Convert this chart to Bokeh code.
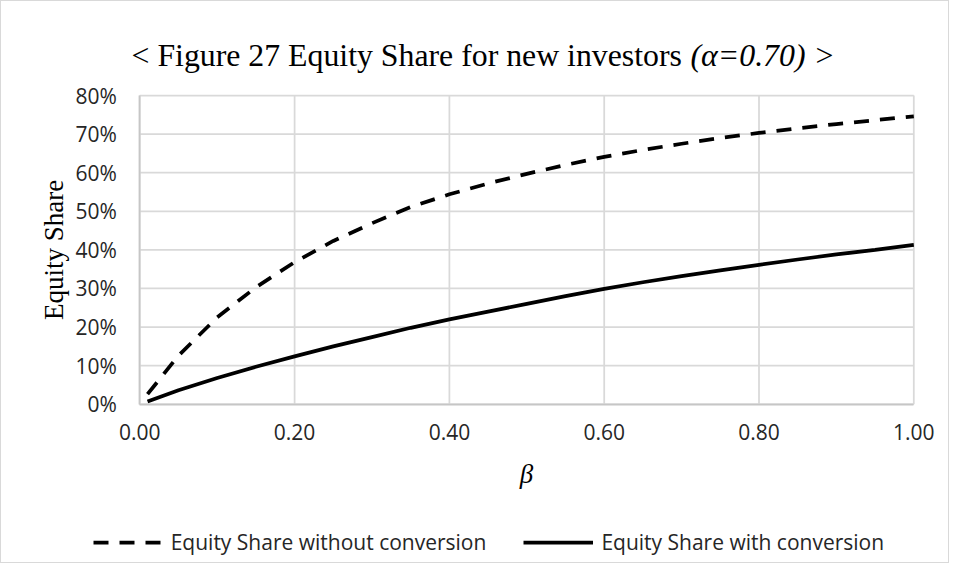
from bokeh.plotting import figure
from bokeh.models import Label, Legend, LegendItem, NumeralTickFormatter, FixedTicker, Range1d
from bokeh.embed import file_html
from bokeh.resources import INLINE

# ---- data ----
beta = [0.01, 0.05, 0.10, 0.15, 0.20, 0.25, 0.30, 0.35, 0.40, 0.45, 0.50,
        0.55, 0.60, 0.65, 0.70, 0.75, 0.80, 0.85, 0.90, 0.95, 1.00]
share_without = [0.026, 0.126, 0.225, 0.303, 0.368, 0.423, 0.469, 0.511, 0.544, 0.572, 0.597,
                 0.620, 0.641, 0.659, 0.675, 0.690, 0.703, 0.715, 0.726, 0.736, 0.746]
share_with = [0.007, 0.036, 0.068, 0.097, 0.124, 0.150, 0.174, 0.198, 0.220, 0.240, 0.260,
              0.280, 0.299, 0.316, 0.332, 0.347, 0.361, 0.375, 0.388, 0.400, 0.413]
x_ticks = [0.0, 0.2, 0.4, 0.6, 0.8, 1.0]
y_ticks = [0.0, 0.1, 0.2, 0.3, 0.4, 0.5, 0.6, 0.7, 0.8]
title_main = "< Figure 27 Equity Share for new investors"
title_italic = "(α=0.70)"
title_end = ">"
series_names = ["Equity Share without conversion", "Equity Share with conversion"]

TICK_FONT = "Open Sans"
SERIF = "Liberation Serif"
TEXT_COLOR = "#262626"
GRID = "#d9d9d9"

# canvas geometry (pixels): the plotting area sits inside a full-canvas frame
W, H = 949, 563
PX_LEFT, PX_RIGHT, PX_TOP, PX_BOTTOM = 138.3, 912.3, 94.0, 402.7
x0, x1 = x_ticks[0], x_ticks[-1]
y0, y1 = y_ticks[0], y_ticks[-1]
sx = (PX_RIGHT - PX_LEFT) / (x1 - x0)
sy = (PX_BOTTOM - PX_TOP) / (y1 - y0)
x_range = Range1d(x0 - PX_LEFT / sx, x0 + (W - PX_LEFT) / sx)
y_range = Range1d(y0 - (H - PX_BOTTOM) / sy, y0 + PX_BOTTOM / sy)

p = figure(width=W, height=H, output_backend="svg", toolbar_location=None,
           x_range=x_range, y_range=y_range, min_border=0)
p.styles = {"border": "1px solid #d9d9d9"}
p.outline_line_color = None
p.background_fill_color = "white"
p.border_fill_color = "white"
p.grid.visible = False

# grid lines limited to the data area
p.segment(x0=x_ticks, y0=[y0] * len(x_ticks), x1=x_ticks, y1=[y1] * len(x_ticks),
          line_color=GRID, line_width=1.75)
p.segment(x0=[x0] * len(y_ticks), y0=y_ticks, x1=[x1] * len(y_ticks), y1=y_ticks,
          line_color=GRID, line_width=1.75)

# axes pinned to the data area
p.xaxis.fixed_location = y0
p.yaxis.fixed_location = x0
p.xaxis.bounds = (x0, x1)
p.yaxis.bounds = (y0, y1)
for ax in (p.xaxis[0], p.yaxis[0]):
    ax.major_tick_line_color = None
    ax.minor_tick_line_color = None
    ax.axis_line_color = "#c6c6c6"
    ax.axis_line_width = 1.75
    ax.major_label_text_font = TICK_FONT
    ax.major_label_text_font_size = "21px"
    ax.major_label_text_color = TEXT_COLOR
    ax.axis_label_text_font = SERIF
    ax.axis_label_text_font_size = "27px"
    ax.axis_label_text_color = "black"

p.xaxis.ticker = FixedTicker(ticks=x_ticks)
p.yaxis.ticker = FixedTicker(ticks=y_ticks)
p.xaxis.formatter = NumeralTickFormatter(format="0.00")
p.yaxis.formatter = NumeralTickFormatter(format="0%")
p.xaxis.major_label_standoff = 14
p.yaxis.major_label_standoff = 17
p.xaxis.axis_label = "β"
p.xaxis.axis_label_text_font_style = "italic"
p.xaxis.axis_label_standoff = 15
p.yaxis.axis_label = "Equity Share"
p.yaxis.axis_label_text_font_style = "normal"
p.yaxis.axis_label_standoff = 3

r1 = p.line(beta, share_without, line_color="black", line_width=3.75, line_dash="15 11")
r2 = p.line(beta, share_with, line_color="black", line_width=3.75)

# title (mixed upright / italic)
ty = H - 54.3
for txt, xpos, style in ((title_main, 130.0, "normal"),
                         (title_italic, 689.0, "italic"),
                         (title_end, 814.0, "normal")):
    p.add_layout(Label(x=xpos, y=ty, x_units="screen", y_units="screen", text=txt,
                       text_font=SERIF, text_font_size="31.8px", text_font_style=style,
                       text_color="black", text_baseline="alphabetic", text_align="left"))

legend = Legend(items=[LegendItem(label=series_names[0], renderers=[r1]),
                       LegendItem(label=series_names[1], renderers=[r2])],
                orientation="horizontal", location=(91.7, 8.5),
                glyph_width=70, glyph_height=20, label_standoff=8, spacing=37,
                padding=0, margin=0, border_line_color=None, background_fill_alpha=0,
                label_text_font=TICK_FONT, label_text_font_size="21px",
                label_text_color=TEXT_COLOR)
p.add_layout(legend)

open("out.html", "w").write(file_html(p, INLINE))
